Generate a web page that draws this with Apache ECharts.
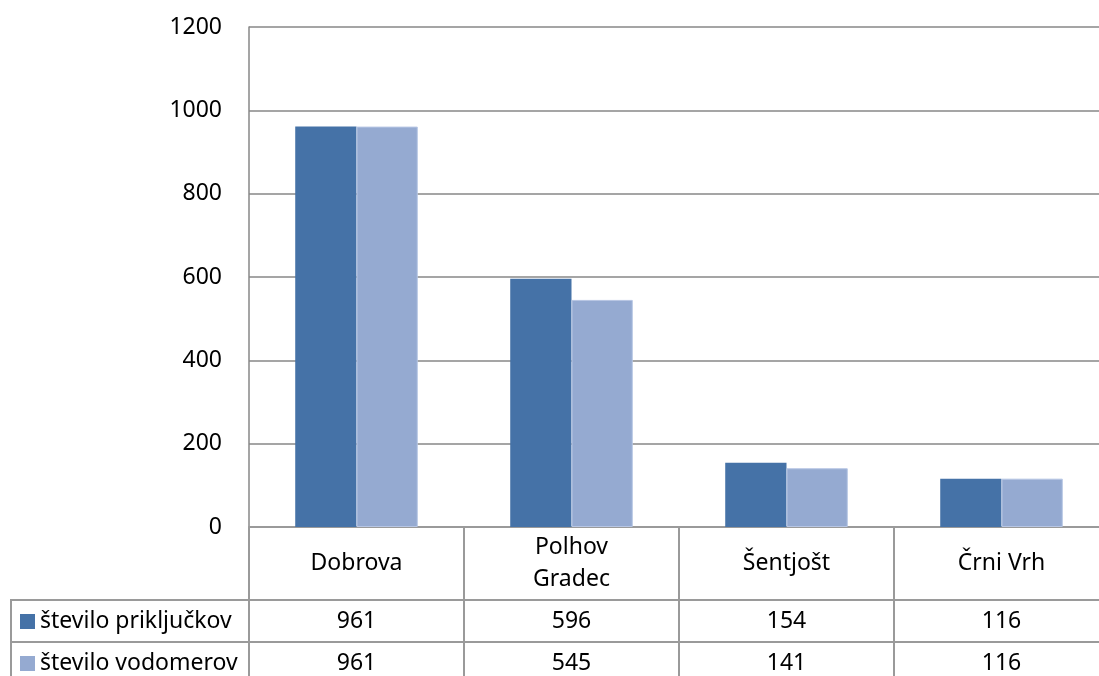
<!DOCTYPE html>
<html>
<head>
<meta charset="utf-8">
<script src="https://cdn.jsdelivr.net/npm/echarts@6/dist/echarts.min.js"></script>
<style>
html,body{margin:0;padding:0;background:#fff;}
#chart{width:1099px;height:676px;}
</style>
</head>
<body>
<div id="chart"></div>
<script>
// podatki
var kraji = ['Dobrova', 'Polhov\nGradec', 'Šentjošt', 'Črni Vrh'];
var imeSerije1 = 'število priključkov';
var imeSerije2 = 'število vodomerov';
var prikljucki = [961, 596, 154, 116];
var vodomeri = [961, 545, 141, 116];
var yTicks = [0, 1200, 200]; // min, max, korak

var FONT = 'Noto Sans';
var FS = 23;
var LINE = '#9a9a9a';

var myChart = echarts.init(document.getElementById('chart'));

var option = {
    animation: false,
    textStyle: {fontFamily: FONT},
    color: ['#4572a7', '#95aad1'],
    legend: {
        orient: 'vertical', left: 20, top: 610, padding: 0,
        itemWidth: 15, itemHeight: 15, itemGap: 19,
        icon: 'rect',
        itemStyle: {borderWidth: 0},
        textStyle: {fontSize: FS, lineHeight: 23, color: '#000', fontFamily: FONT},
        data: [imeSerije1, imeSerije2]
    },
    grid: {left: 249, top: 27, width: 860, height: 500, containLabel: false, outerBoundsMode: 'none'},
    xAxis: [{
        type: 'category', data: kraji, position: 'bottom',
        axisLine: {show: true, lineStyle: {color: LINE, width: 2}},
        axisTick: {show: true, length: 150, lineStyle: {color: LINE, width: 2}},
        axisLabel: {fontSize: FS, color: '#000', margin: 36, verticalAlign: 'middle', lineHeight: 32, interval: 0}
    }, {
        // vrstica tabele: priključki
        type: 'category', data: kraji, position: 'bottom',
        axisLine: {show: false}, axisTick: {show: false},
        axisLabel: {fontSize: FS, color: '#000', margin: 94, verticalAlign: 'middle', interval: 0,
            formatter: function (v, i) { return String(prikljucki[i]); }}
    }, {
        // vrstica tabele: vodomeri
        type: 'category', data: kraji, position: 'bottom',
        axisLine: {show: false}, axisTick: {show: false},
        axisLabel: {fontSize: FS, color: '#000', margin: 136, verticalAlign: 'middle', interval: 0,
            formatter: function (v, i) { return String(vodomeri[i]); }}
    }],
    yAxis: {
        type: 'value', min: yTicks[0], max: yTicks[1], interval: yTicks[2],
        axisLine: {show: true, lineStyle: {color: '#878787', width: 1.5}},
        axisTick: {show: false},
        splitLine: {show: true, lineStyle: {color: '#878787', width: 1.5}},
        axisLabel: {fontSize: FS, color: '#000', margin: 27,
            formatter: function (v) { return String(v); }}
    },
    series: [{
        name: imeSerije1, type: 'bar', data: prikljucki,
        barGap: '0%', barCategoryGap: '43%'
    }, {
        name: imeSerije2, type: 'bar', data: vodomeri,
        barGap: '0%', barCategoryGap: '43%',
        itemStyle: {borderColor: '#b7c6e4', borderWidth: 1}
    }],
    graphic: [
        // okvir tabele
        {type: 'line', shape: {x1: 11, y1: 600, x2: 1099, y2: 600}, style: {stroke: LINE, lineWidth: 2}},
        {type: 'line', shape: {x1: 11, y1: 642, x2: 1099, y2: 642}, style: {stroke: LINE, lineWidth: 2}},
        {type: 'line', shape: {x1: 11, y1: 599, x2: 11, y2: 676}, style: {stroke: LINE, lineWidth: 2}}
    ]
};
myChart.setOption(option);
</script>
</body>
</html>
